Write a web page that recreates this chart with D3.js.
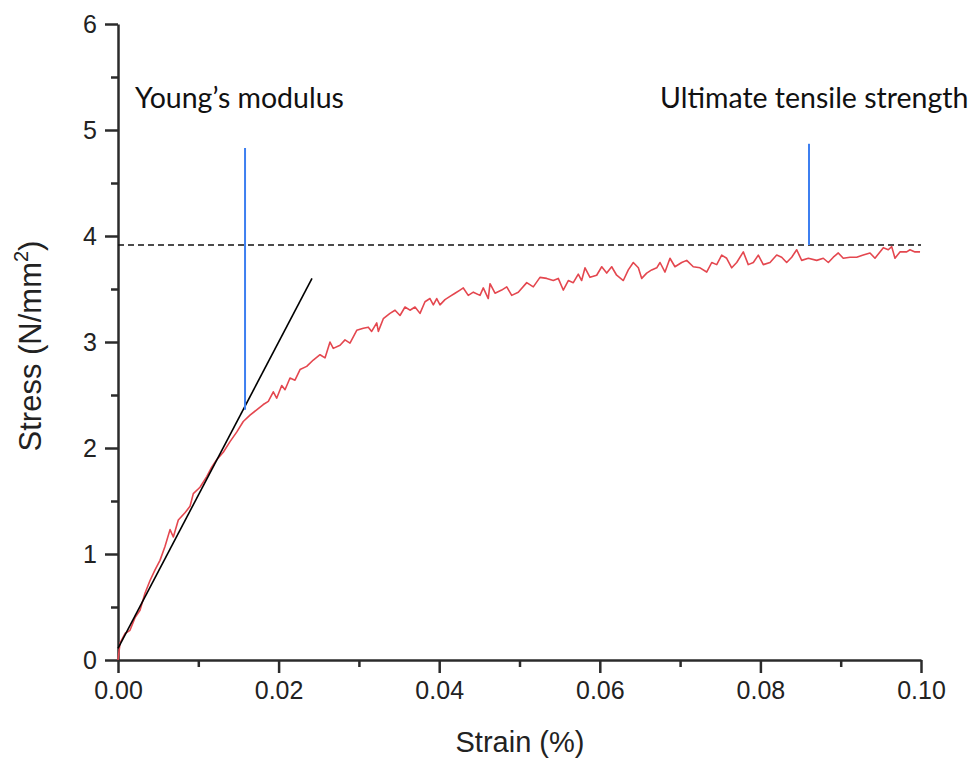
<!DOCTYPE html>
<html><head><meta charset="utf-8">
<script src="https://cdn.jsdelivr.net/npm/d3@7"></script>
<style>body{margin:0;background:#fff}</style>
</head><body>
<svg id="c" width="972" height="760"></svg>
<script>
// Stress-strain curve (strain %, stress N/mm^2)
const strain = [0,0.0001,0.00025,0.00087,0.00149,0.00212,0.00274,0.00336,0.00399,0.00461,0.00523,0.00585,0.00648,0.00689,0.00751,0.00834,0.00897,0.00938,0.01021,0.01105,0.01167,0.01229,0.01311,0.01395,0.01478,0.0156,0.01644,0.01727,0.01809,0.01872,0.01934,0.01976,0.02039,0.0208,0.02142,0.02204,0.02267,0.0235,0.02432,0.02516,0.02578,0.0264,0.02681,0.02765,0.02827,0.02889,0.02973,0.03055,0.03117,0.03159,0.03222,0.03242,0.03304,0.03387,0.0345,0.03512,0.03574,0.03636,0.03699,0.03761,0.03823,0.03885,0.03927,0.03969,0.0401,0.04072,0.04134,0.04197,0.04259,0.043,0.04362,0.04425,0.04508,0.04549,0.04611,0.04633,0.04695,0.04778,0.04841,0.04903,0.04985,0.0509,0.05172,0.05255,0.05339,0.05421,0.05483,0.05545,0.05608,0.0567,0.05732,0.05774,0.05816,0.05878,0.05961,0.06024,0.06086,0.06148,0.0621,0.06293,0.06355,0.06417,0.0648,0.06522,0.06584,0.06646,0.06709,0.0675,0.06812,0.06874,0.06936,0.0702,0.07082,0.07164,0.07248,0.07331,0.07394,0.07456,0.07518,0.0758,0.07643,0.07705,0.07787,0.07849,0.07912,0.07974,0.08036,0.0812,0.08203,0.08265,0.08327,0.0839,0.08452,0.08514,0.08597,0.08701,0.08783,0.08846,0.08908,0.0897,0.09032,0.09116,0.09199,0.09281,0.09365,0.09427,0.09489,0.09531,0.09593,0.09635,0.09676,0.09738,0.09822,0.09863,0.09925,0.09988];
const stress = [0,0.06,0.16,0.25,0.28,0.40,0.47,0.63,0.75,0.85,0.94,1.07,1.23,1.16,1.32,1.39,1.45,1.57,1.63,1.73,1.82,1.89,1.96,2.06,2.15,2.25,2.31,2.36,2.41,2.44,2.53,2.47,2.59,2.55,2.66,2.64,2.74,2.77,2.83,2.88,2.85,3.00,2.94,2.97,3.02,2.99,3.11,3.13,3.14,3.10,3.18,3.10,3.22,3.27,3.30,3.25,3.33,3.30,3.33,3.27,3.38,3.41,3.35,3.41,3.35,3.40,3.43,3.46,3.49,3.51,3.44,3.47,3.44,3.51,3.41,3.55,3.46,3.49,3.52,3.44,3.47,3.56,3.52,3.61,3.60,3.58,3.60,3.49,3.58,3.56,3.64,3.58,3.70,3.61,3.63,3.71,3.65,3.71,3.63,3.58,3.68,3.75,3.70,3.60,3.65,3.68,3.70,3.75,3.66,3.79,3.71,3.75,3.77,3.71,3.70,3.66,3.75,3.73,3.82,3.79,3.70,3.75,3.85,3.73,3.75,3.82,3.73,3.75,3.82,3.80,3.75,3.80,3.87,3.77,3.79,3.77,3.79,3.75,3.80,3.84,3.79,3.80,3.80,3.82,3.84,3.79,3.85,3.89,3.87,3.90,3.79,3.85,3.85,3.87,3.85,3.85];
// Young's modulus tangent line
const tangentStrain = [0, 0.02416];
const tangentStress = [0.11, 3.60];
// UTS dashed level
const utsLevel = 3.915;
// Annotation markers
const markerLabels = ["Young\u2019s modulus", "Ultimate tensile strength"];
const markerStrain = [0.01582, 0.08605];
const markerTop = [4.83, 4.87];
const markerBottom = [2.36, 3.915];
const xTicks = [0, 0.02, 0.04, 0.06, 0.08, 0.10];
const yTicks = [0, 1, 2, 3, 4, 5, 6];

const svg = d3.select("#c");
const x = d3.scaleLinear().domain([0, 0.1]).range([118, 921]);
const y = d3.scaleLinear().domain([0, 6]).range([660, 24]);
const axisColor = "#2b2b2b";
const sans = "'Liberation Sans', Arial, sans-serif";

// minor ticks
const xMinor = d3.range(0.01, 0.1, 0.02);
const yMinor = d3.range(0.5, 6, 1);
svg.append("g").attr("transform","translate(0,660)")
  .call(d3.axisBottom(x).tickValues(xMinor).tickSize(7).tickFormat(""))
  .call(g=>{g.select(".domain").remove(); g.selectAll("line").attr("stroke",axisColor).attr("stroke-width",2.5);});
svg.append("g").attr("transform","translate(118,0)")
  .call(d3.axisLeft(y).tickValues(yMinor).tickSize(7).tickFormat(""))
  .call(g=>{g.select(".domain").remove(); g.selectAll("line").attr("stroke",axisColor).attr("stroke-width",2.5);});

const xa = svg.append("g").attr("transform","translate(0,660)")
  .call(d3.axisBottom(x).tickValues(xTicks).tickSize(13).tickSizeOuter(0).tickPadding(8).tickFormat(d3.format(".2f")));
const ya = svg.append("g").attr("transform","translate(118,0)")
  .call(d3.axisLeft(y).tickValues(yTicks).tickSize(13).tickSizeOuter(0).tickPadding(8).tickFormat(d3.format("d")));
[xa, ya].forEach(g=>{
  g.select(".domain").attr("stroke",axisColor).attr("stroke-width",2.5);
  g.selectAll(".tick line").attr("stroke",axisColor).attr("stroke-width",2.5);
  g.selectAll("text").attr("font-family",sans).attr("font-size",25).attr("fill","#222");
});

// dashed UTS line
svg.append("line").attr("x1",x(0)).attr("x2",x(0.1)).attr("y1",y(utsLevel)).attr("y2",y(utsLevel))
  .attr("stroke","#111").attr("stroke-width",1.5).attr("stroke-dasharray","6,4");

// curve
const pts = strain.map((s,i)=>[s, stress[i]]);
svg.append("path").datum(pts)
  .attr("d", d3.line().x(d=>x(d[0])).y(d=>y(d[1])))
  .attr("fill","none").attr("stroke","#e4474f").attr("stroke-width",1.6).attr("stroke-linejoin","round");

// tangent
svg.append("line").attr("x1",x(tangentStrain[0])).attr("y1",y(tangentStress[0]))
  .attr("x2",x(tangentStrain[1])).attr("y2",y(tangentStress[1]))
  .attr("stroke","#000").attr("stroke-width",1.6);

// markers
markerStrain.forEach((s,i)=>{
  svg.append("line").attr("x1",x(s)).attr("x2",x(s)).attr("y1",y(markerTop[i])).attr("y2",y(markerBottom[i]))
    .attr("stroke","#3d7ff0").attr("stroke-width",2);
});
const labelPos = [[135,108],[660,108]];
markerLabels.forEach((t,i)=>{
  svg.append("text").attr("x",labelPos[i][0]).attr("y",labelPos[i][1])
    .attr("font-family","Lato, 'Open Sans', sans-serif").attr("font-size",28.5).attr("fill","#111").text(t);
});

// axis titles
svg.append("text").attr("x",520).attr("y",752).attr("text-anchor","middle")
  .attr("font-family",sans).attr("font-size",29).attr("fill","#222").text("Strain (%)");
const yt = svg.append("text").attr("transform","translate(41,346) rotate(-90)").attr("text-anchor","middle")
  .attr("font-family",sans).attr("font-size",31).attr("fill","#222");
yt.append("tspan").text("Stress (N/mm");
yt.append("tspan").attr("font-size",20).attr("dy",-13).text("2");
yt.append("tspan").attr("dy",13).text(")");
</script>
</body></html>
